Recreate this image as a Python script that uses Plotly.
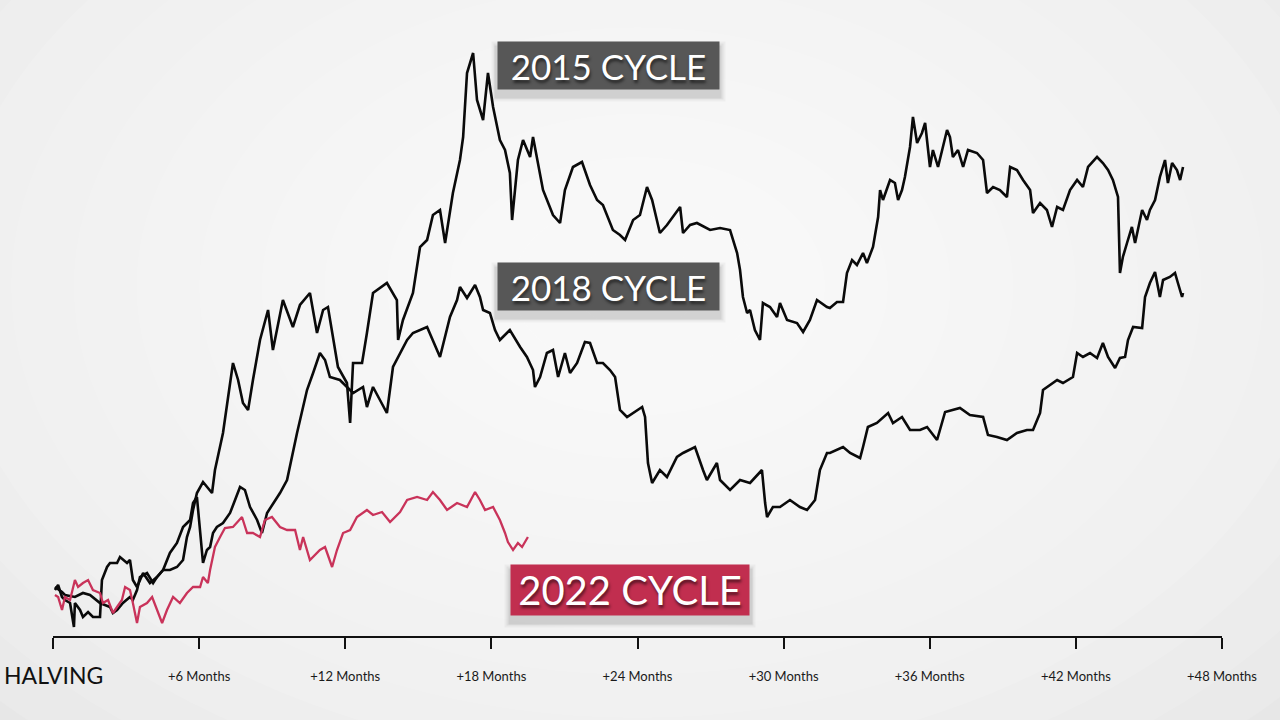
import plotly.graph_objects as go

# months since halving / relative level (arbitrary units, 0 = level at halving)
months_2015 = [0.08, 0.21, 0.37, 0.49, 0.70, 0.86, 0.90, 1.11, 1.23, 1.44, 1.64, 1.93, 2.01, 2.22, 2.34, 2.63, 2.75,
               3.04, 3.16, 3.28, 3.45, 3.70, 3.98, 4.27, 4.52, 4.80, 5.09, 5.34, 5.50, 5.63, 5.75, 5.91, 6.16, 6.32,
               6.53, 6.65, 6.98, 7.39, 7.60, 7.80, 8.01, 8.21, 8.50, 8.83, 9.03, 9.44, 9.85, 10.14, 10.55, 10.84,
               11.09, 11.29, 11.58, 11.70, 12.07, 12.20, 12.32, 12.69, 12.89, 13.14, 13.71, 14.12, 14.17, 14.37,
               14.78, 15.07, 15.36, 15.60, 15.89, 16.10, 16.42, 16.71, 16.84, 17.00, 17.25, 17.41, 17.66, 17.86,
               18.07, 18.35, 18.56, 18.76, 18.85, 19.09, 19.30, 19.59, 19.71, 20.12, 20.53, 20.82, 21.02, 21.35,
               21.72, 22.05, 22.34, 22.58, 22.99, 23.28, 23.49, 23.82, 24.10, 24.39, 24.60, 24.92, 25.21, 25.75,
               25.87, 26.16, 26.44, 26.98, 27.39, 27.80, 28.09, 28.21, 28.33, 28.50, 28.62, 28.82, 29.03, 29.15,
               29.44, 29.73, 29.85, 30.14, 30.55, 30.80, 31.08, 31.37, 31.78, 31.90, 32.19, 32.44, 32.60, 32.81,
               33.01, 33.26, 33.42, 33.67, 33.88, 33.96, 34.08, 34.37, 34.57, 34.70, 34.86, 34.98, 35.19, 35.31,
               35.48, 35.68, 35.81, 36.01, 36.13, 36.34, 36.54, 36.71, 36.83, 36.95, 37.16, 37.37, 37.57, 37.94,
               38.19, 38.35, 38.60, 38.88, 39.17, 39.30, 39.58, 39.83, 40.12, 40.24, 40.53, 40.81, 41.02, 41.23,
               41.47, 41.76, 42.05, 42.29, 42.50, 42.87, 43.11, 43.32, 43.52, 43.73, 43.81, 43.93, 44.10, 44.30,
               44.43, 44.72, 44.92, 45.04, 45.25, 45.45, 45.66, 45.78, 45.95, 46.15, 46.28, 46.40]
level_2015 = [-3, 2, -10, -13, -16, -40, -16, -23, -30, -25, -30, -30, 7, 20, 24, 24, 30,
              24, 27, 7, 0, 14, 4, 10, 17, 17, 20, 27, 50, 60, 77, 94, 105, 100,
              94, 117, 154, 224, 207, 184, 177, 207, 247, 277, 237, 287, 260, 282, 294, 254,
              277, 280, 240, 220, 204, 164, 224, 224, 254, 294, 304, 287, 247, 267,
              294, 340, 347, 372, 377, 344, 394, 427, 450, 514, 534, 487, 467, 514,
              480, 447, 437, 414, 367, 427, 447, 430, 450, 397, 372, 364, 397, 420,
              425, 402, 387, 382, 357, 352, 347, 367, 372, 400, 387, 354, 362, 380,
              354, 362, 364, 357, 359, 357, 334, 317, 290, 274, 277, 257, 247, 284,
              280, 270, 284, 267, 264, 255, 267, 287, 280, 279, 285, 285, 314, 327,
              322, 334, 324, 340, 370, 397, 387, 407, 404, 387, 397, 410, 440, 470,
              444, 454, 464, 420, 437, 420, 440, 457, 450, 430, 437, 420, 437, 434,
              427, 394, 400, 397, 390, 420, 417, 407, 397, 374, 384, 377, 360, 380,
              377, 397, 407, 400, 420, 430, 424, 417, 407, 390, 314, 330, 344, 360,
              344, 377, 367, 377, 387, 410, 427, 404, 424, 417, 407, 420]

months_2018 = [0.08, 0.37, 0.49, 0.90, 1.23, 1.52, 1.93, 2.34, 2.46, 2.63, 2.87, 3.16, 3.28, 3.45, 3.57, 3.86, 4.11,
               4.27, 4.52, 4.80, 5.09, 5.34, 5.63, 5.75, 5.91, 6.04, 6.16, 6.32, 6.45, 6.57, 6.73, 6.98, 7.27,
               7.68, 7.88, 8.09, 8.38, 8.58, 8.79, 9.32, 9.61, 10.02, 10.43, 10.68, 10.96, 11.17, 11.37, 11.78,
               12.32, 12.73, 12.89, 13.14, 13.71, 13.96, 14.54, 14.78, 15.36, 15.89, 16.10, 16.30, 16.59, 16.71,
               17.00, 17.33, 17.53, 17.66, 17.94, 18.15, 18.35, 18.76, 19.18, 19.46, 19.71, 19.79, 20.00, 20.28,
               20.53, 20.74, 21.02, 21.23, 21.52, 21.84, 22.05, 22.34, 22.58, 22.87, 23.08, 23.20, 23.28, 23.57,
               23.98, 24.19, 24.31, 24.43, 24.60, 24.92, 25.21, 25.62, 25.87, 26.36, 26.69, 26.85, 27.26, 27.39,
               27.80, 28.21, 28.62, 29.11, 29.24, 29.32, 29.56, 29.85, 30.26, 30.67, 30.96, 31.29, 31.49, 31.78,
               31.90, 32.44, 32.73, 33.14, 33.26, 33.46, 33.83, 34.29, 34.49, 34.86, 35.19, 35.60, 35.89, 36.30,
               36.63, 36.95, 37.24, 37.65, 38.19, 38.39, 38.76, 39.17, 39.58, 39.99, 40.24, 40.53, 40.65, 41.23,
               41.47, 41.88, 42.05, 42.29, 42.58, 42.87, 43.11, 43.32, 43.61, 43.81, 44.02, 44.14, 44.35, 44.72,
               44.84, 45.04, 45.25, 45.45, 45.58, 45.86, 46.07, 46.19, 46.36, 46.40]
level_2018 = [0, -5, -8, -10, -6, -8, -16, -20, -26, -23, -16, -10, -13, -3, 10, 14, 4,
              10, 17, 34, 44, 60, 67, 84, 90, 57, 24, 37, 40, 54, 60, 64, 74,
              100, 97, 80, 67, 54, 74, 94, 107, 154, 197, 214, 234, 227, 210, 207,
              194, 200, 180, 200, 174, 220, 247, 254, 260, 230, 250, 270, 287, 300,
              289, 302, 290, 277, 274, 257, 247, 257, 240, 230, 217, 200, 210, 234,
              237, 210, 234, 214, 224, 245, 244, 224, 224, 217, 210, 190, 177, 170,
              177, 180, 170, 124, 104, 117, 110, 130, 134, 140, 117, 107, 124, 107,
              97, 107, 104, 117, 84, 70, 80, 80, 87, 80, 77, 87, 117, 134,
              134, 140, 134, 129, 140, 160, 164, 174, 164, 170, 157, 157, 160, 147,
              175, 177, 179, 172, 170, 152, 150, 147, 154, 157, 157, 174, 197, 207,
              204, 210, 234, 230, 234, 229, 244, 230, 219, 229, 230, 247, 260, 259,
              290, 304, 315, 290, 307, 310, 314, 304, 290, 294]

months_2022 = [0.08, 0.21, 0.37, 0.49, 0.70, 0.90, 1.03, 1.23, 1.44, 1.64, 1.93, 2.05, 2.26, 2.46, 2.63, 2.83, 2.96,
               3.16, 3.28, 3.45, 3.57, 3.86, 4.07, 4.27, 4.48, 4.68, 4.93, 5.21, 5.50, 5.75, 6.04, 6.16, 6.36,
               6.45, 6.65, 6.86, 7.06, 7.39, 7.76, 7.97, 8.21, 8.50, 8.70, 8.99, 9.32, 9.61, 9.94, 10.14, 10.27,
               10.55, 10.96, 11.17, 11.46, 11.66, 11.91, 12.20, 12.48, 12.89, 13.14, 13.51, 13.84, 14.25, 14.54,
               14.95, 15.36, 15.60, 15.89, 16.18, 16.59, 17.00, 17.33, 17.53, 17.74, 18.07, 18.35, 18.56, 18.68,
               18.89, 19.09, 19.26, 19.50]
level_2022 = [-8, -10, -23, -10, -13, 7, 0, 4, 7, -3, -6, -16, -13, -26, -20, -13, 0,
              -3, -16, -36, -20, -16, -10, -23, -36, -23, -10, -16, -6, 0, 0, 10, 4,
              17, 40, 50, 59, 60, 70, 54, 54, 50, 67, 70, 60, 57, 57, 37, 50,
              27, 37, 40, 20, 37, 54, 57, 70, 77, 72, 75, 65, 75, 87,
              90, 87, 95, 87, 77, 84, 80, 95, 87, 77, 80, 67, 54, 45,
              37, 44, 40, 50]

tick_months = [0, 6, 12, 18, 24, 30, 36, 42, 48]
tick_labels = ["", "+6 Months", "+12 Months", "+18 Months", "+24 Months",
               "+30 Months", "+36 Months", "+42 Months", "+48 Months"]

BLACK = "#0a0a0a"
RED = "#c9335a"

fig = go.Figure()
fig.add_trace(go.Scatter(x=months_2015, y=level_2015, mode="lines",
                         line=dict(color=BLACK, width=2.6), name="2015 cycle"))
fig.add_trace(go.Scatter(x=months_2018, y=level_2018, mode="lines",
                         line=dict(color=BLACK, width=2.6), name="2018 cycle"))
fig.add_trace(go.Scatter(x=months_2022, y=level_2022, mode="lines",
                         line=dict(color=RED, width=2.3), name="2022 cycle"))

# soft radial background (white centre, grey edges)
bg_shapes = []
n = 14
for i in range(n):
    f = 1 - i / n
    bg_shapes.append(dict(type="circle", xref="paper", yref="paper", layer="below",
                          x0=0.5 - 0.75 * f, x1=0.5 + 0.75 * f,
                          y0=0.55 - 0.95 * f, y1=0.55 + 0.95 * f,
                          fillcolor="white", opacity=0.12, line_width=0))

fig.update_layout(
    width=1280, height=720,
    margin=dict(l=53, r=58, t=0, b=84),
    paper_bgcolor="#e7e7e7",
    plot_bgcolor="rgba(0,0,0,0)",
    showlegend=False,
    shapes=bg_shapes,
    xaxis=dict(range=[0, 48], showgrid=False, zeroline=False,
               showline=True, linecolor="#111", linewidth=2,
               ticks="outside", ticklen=11, tickwidth=2, tickcolor="#111",
               tickvals=tick_months, ticktext=tick_labels,
               tickfont=dict(family="Lato", size=13, color="#1a1a1a"),
               ticklabelstandoff=16),
    yaxis=dict(range=[-49, 587], visible=False),
)

fig.add_annotation(xref="x", yref="paper", x=0, y=0, yanchor="middle", yshift=-39,
                   text="HALVING", showarrow=False,
                   font=dict(family="Lato", size=23, color="#111"))


def add_label(text, cx, cy, w, h, color, size):
    # soft drop shadow (a few faint layers), then the box with the text
    for k, a in [(10, 0.035), (6, 0.05), (3, 0.07)]:
        fig.add_annotation(xref="paper", yref="paper", x=cx, y=cy, yshift=-6,
                           xanchor="center", yanchor="middle",
                           text="", showarrow=False, width=w + k, height=h + k,
                           bgcolor=f"rgba(0,0,0,{a})")
    fig.add_annotation(xref="paper", yref="paper", x=cx, y=cy, text=text, showarrow=False,
                       xanchor="center", yanchor="middle",
                       width=w, height=h, bgcolor=color, borderpad=0,
                       font=dict(family="Lato", size=size, color="white", weight=400,
                                 shadow="1px 3px 3px rgba(0,0,0,0.55)"))


add_label("2015 CYCLE", 0.475, 0.897, 221, 47, "#575757", 35)
add_label("2018 CYCLE", 0.475, 0.549, 221, 47, "#575757", 35)
add_label("2022 CYCLE", 0.4936, 0.0723, 238, 50, "#c12e4f", 40)

# the page has a default 8px body margin; drop it so the figure fills the window
fig.write_html("out.html", config={"displayModeBar": False},
               post_script="document.body.style.margin='0';")
